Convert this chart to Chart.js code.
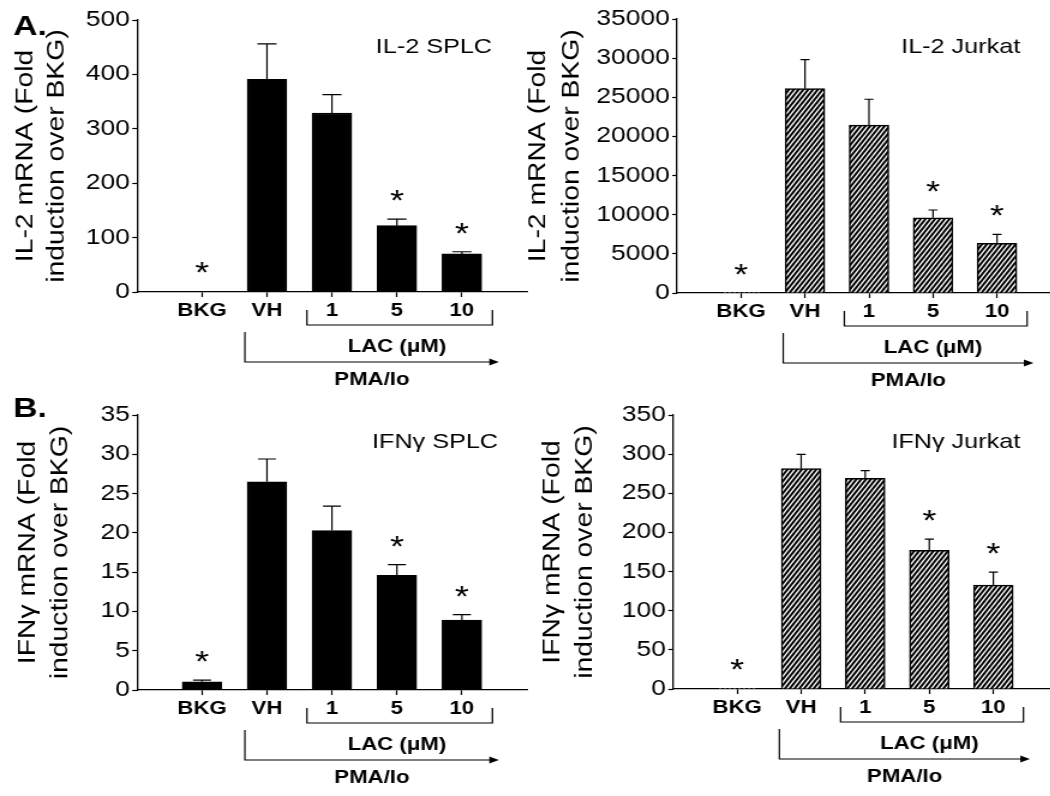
<!DOCTYPE html>
<html>
<head>
<meta charset="utf-8">
<script src="https://cdn.jsdelivr.net/npm/chart.js@4.4.1/dist/chart.umd.min.js"></script>
<style>
html, body { margin: 0; padding: 0; background: #fff; width: 1050px; height: 796px; overflow: hidden; }
.panel { position: absolute; transform-origin: 0 0; }
</style>
</head>
<body>
<div class="panel" id="pA1"><canvas id="cA1"></canvas></div>
<div class="panel" id="pA2"><canvas id="cA2"></canvas></div>
<div class="panel" id="pB1"><canvas id="cB1"></canvas></div>
<div class="panel" id="pB2"><canvas id="cB2"></canvas></div>
<script>
// the original figure's type is wide, so every panel is drawn narrow and scaled in x
const SX = 1.2;
// the rotated axis titles are only stretched along the text direction
const TITLE_STRETCH = 1.18;
const FONT = '"Liberation Sans", Arial, sans-serif';

const categories = ['', 'BKG', 'VH', '1', '5', '10', ''];

const il2SplcMean = [1, 391, 329, 122, 70];
const il2SplcSem = [0, 65, 34, 12, 4];
const il2SplcTicks = [0, 500, 100];

const il2JurkatMean = [1, 26100, 21450, 9600, 6350];
const il2JurkatSem = [0, 3700, 3300, 1000, 1150];
const il2JurkatTicks = [0, 35000, 5000];

const ifnSplcMean = [1.05, 26.5, 20.3, 14.6, 8.9];
const ifnSplcSem = [0.2, 2.9, 3.1, 1.35, 0.7];
const ifnSplcTicks = [0, 35, 5];

const ifnJurkatMean = [1, 281.5, 269, 177, 132.7];
const ifnJurkatSem = [0, 18.3, 10, 14.4, 16.6];
const ifnJurkatTicks = [0, 350, 50];

// * = significant vs VH
const significant = [true, false, false, true, true];

Chart.defaults.font.family = FONT;
Chart.defaults.color = '#000';

function padded(arr) {
	return [null, ...arr, null];
}

function makeHatch() {
	let c = document.createElement('canvas');
	c.width = 4;
	c.height = 6;
	let g = c.getContext('2d');
	g.fillStyle = '#fff';
	g.fillRect(0, 0, 4, 6);
	g.strokeStyle = '#000';
	g.lineWidth = 2;
	for (let k of [-1, 0, 1]) {
		g.beginPath();
		g.moveTo(k * 4 - 4, 12);
		g.lineTo(k * 4 + 8, -6);
		g.stroke();
	}
	return g.createPattern(c, 'repeat');
}

function decorPlugin(p) {
	return {
		id: 'decor',
		afterDatasetsDraw(chart) {
			let ctx = chart.ctx;
			let y = chart.scales.y;
			let meta = chart.getDatasetMeta(0);
			ctx.save();
			ctx.strokeStyle = '#000';
			ctx.fillStyle = '#000';
			ctx.lineWidth = 1.2;
			ctx.textAlign = 'center';
			ctx.textBaseline = 'alphabetic';
			ctx.font = '30px ' + FONT;
			p.mean.forEach((m, i) => {
				let bar = meta.data[i + 1];
				let top = y.getPixelForValue(m + p.sem[i]);
				if (p.sem[i] > 0) {
					ctx.beginPath();
					ctx.moveTo(bar.x, bar.y);
					ctx.lineTo(bar.x, top);
					ctx.moveTo(bar.x - p.cap, top);
					ctx.lineTo(bar.x + p.cap, top);
					ctx.stroke();
				}
				if (significant[i]) {
					ctx.fillText('*', bar.x, top - 9);
				}
			});
			ctx.restore();
		},
		afterDraw(chart) {
			let ctx = chart.ctx;
			let xs = chart.scales.x;
			let area = chart.chartArea;
			let b = area.bottom;
			let step = xs.getPixelForValue(2) - xs.getPixelForValue(1);
			let px = (i, f) => xs.getPixelForValue(i) + f * step;
			ctx.save();
			ctx.strokeStyle = '#000';
			ctx.fillStyle = '#000';
			ctx.lineWidth = 1.2;

			// LAC bracket
			let l = px(3, -0.385), r = px(5, 0.47);
			ctx.beginPath();
			ctx.moveTo(l, b + 18);
			ctx.lineTo(l, b + 33);
			ctx.lineTo(r, b + 33);
			ctx.lineTo(r, b + 18);
			ctx.stroke();

			// PMA/Io arrow
			let ax = px(2, -0.34), ae = px(5, 0.57);
			ctx.beginPath();
			ctx.moveTo(ax, b + 40);
			ctx.lineTo(ax, b + 70);
			ctx.lineTo(ae - 6, b + 70);
			ctx.stroke();
			ctx.beginPath();
			ctx.moveTo(ae, b + 70);
			ctx.lineTo(ae - 8, b + 66.5);
			ctx.lineTo(ae - 8, b + 73.5);
			ctx.closePath();
			ctx.fill();

			ctx.textAlign = 'center';
			ctx.textBaseline = 'middle';
			ctx.font = 'bold 18.5px ' + FONT;
			ctx.fillText('LAC (\u03bcM)', px(4, 0), b + 55);
			ctx.fillText('PMA/Io', (ax + ae) / 2, b + 88);

			ctx.textAlign = 'right';
			ctx.textBaseline = 'alphabetic';
			ctx.font = '21px ' + FONT;
			ctx.fillText(p.label, p.labelRight, p.labelBase);

			if (p.letter) {
				ctx.textAlign = 'left';
				ctx.font = 'bold 28px ' + FONT;
				ctx.fillText(p.letter, 11, p.letterBase);
			}

			// rotated y title, two lines
			ctx.textAlign = 'center';
			ctx.font = '24px ' + FONT;
			let cy = (area.top + area.bottom) / 2;
			p.yTitle.forEach((t, k) => {
				ctx.save();
				ctx.translate(p.titleBase[k] / SX, cy);
				ctx.scale(1 / SX, 1);
				ctx.rotate(-Math.PI / 2);
				ctx.scale(TITLE_STRETCH, 1);
				ctx.fillText(t, 0, 0);
				ctx.restore();
			});
			ctx.restore();
		}
	};
}

const panels = [
	{ id: 'A1', left: 0, top: 0, w: 442, h: 392, x0: 114.2, xEnd: 439.2, cTop: 20, cBottom: 292,
		mean: il2SplcMean, sem: il2SplcSem, ticks: il2SplcTicks, hatched: false, cap: 8,
		yTitle: ['IL-2 mRNA (Fold', 'induction over BKG)'], titleBase: [32, 64],
		label: 'IL-2 SPLC', labelRight: 410, labelBase: 53, letter: 'A.', letterBase: 35 },
	{ id: 'A2', left: 515, top: 0, w: 458, h: 392, x0: 135, xEnd: 456.7, cTop: 19, cBottom: 293,
		mean: il2JurkatMean, sem: il2JurkatSem, ticks: il2JurkatTicks, hatched: true, cap: 3.8,
		yTitle: ['IL-2 mRNA (Fold', 'induction over BKG)'], titleBase: [30, 64],
		label: 'IL-2 Jurkat', labelRight: 421, labelBase: 53 },
	{ id: 'B1', left: 0, top: 390, w: 442, h: 406, x0: 114.2, xEnd: 440.8, cTop: 25, cBottom: 300,
		mean: ifnSplcMean, sem: ifnSplcSem, ticks: ifnSplcTicks, hatched: false, cap: 7.5,
		yTitle: ['IFN\u03b3 mRNA (Fold', 'induction over BKG)'], titleBase: [35, 67],
		label: 'IFN\u03b3 SPLC', labelRight: 415, labelBase: 58, letter: 'B.', letterBase: 27 },
	{ id: 'B2', left: 515, top: 390, w: 455, h: 406, x0: 131.7, xEnd: 453.3, cTop: 25, cBottom: 299,
		mean: ifnJurkatMean, sem: ifnJurkatSem, ticks: ifnJurkatTicks, hatched: true, cap: 3.8,
		yTitle: ['IFN\u03b3 mRNA (Fold', 'induction over BKG)'], titleBase: [44, 77],
		label: 'IFN\u03b3 Jurkat', labelRight: 421, labelBase: 58 }
];

for (let p of panels) {
	let div = document.getElementById('p' + p.id);
	div.style.left = p.left + 'px';
	div.style.top = p.top + 'px';
	div.style.width = p.w + 'px';
	div.style.height = p.h + 'px';
	div.style.transform = 'scaleX(' + SX + ')';
	let canvas = document.getElementById('c' + p.id);
	canvas.width = p.w;
	canvas.height = p.h;

	new Chart(canvas.getContext('2d'), {
		type: 'bar',
		data: {
			labels: categories,
			datasets: [{
				data: padded(p.mean),
				backgroundColor: p.hatched ? makeHatch() : '#000',
				borderColor: '#000',
				borderWidth: 1.5,
				barThickness: 33
			}]
		},
		options: {
			responsive: false,
			animation: false,
			devicePixelRatio: 1,
			layout: { padding: { left: 0, top: p.cTop, right: p.w - p.xEnd, bottom: 0 } },
			plugins: { legend: { display: false }, tooltip: { enabled: false } },
			scales: {
				x: {
					offset: false,
					grid: {
						offset: false,
						drawOnChartArea: false,
						tickLength: 5,
						tickWidth: 1.2,
						tickColor: c => (categories[c.index] ? '#000' : 'rgba(0,0,0,0)')
					},
					border: { color: '#000', width: 1.3 },
					ticks: { autoSkip: false, maxRotation: 0, padding: 3, color: '#000', font: { size: 18.5, weight: 'bold' } },
					afterFit: s => { s.height = p.h - p.cBottom; }
				},
				y: {
					min: p.ticks[0],
					max: p.ticks[1],
					grid: { drawOnChartArea: false, tickLength: 4, tickWidth: 1.2, tickColor: '#000' },
					border: { color: '#000', width: 1.3 },
					ticks: { stepSize: p.ticks[2], padding: 2, color: '#000', font: { size: 22 }, callback: v => String(v) },
					afterFit: s => { s.width = p.x0; }
				}
			}
		},
		plugins: [decorPlugin(p)]
	});
}
</script>
</body>
</html>
